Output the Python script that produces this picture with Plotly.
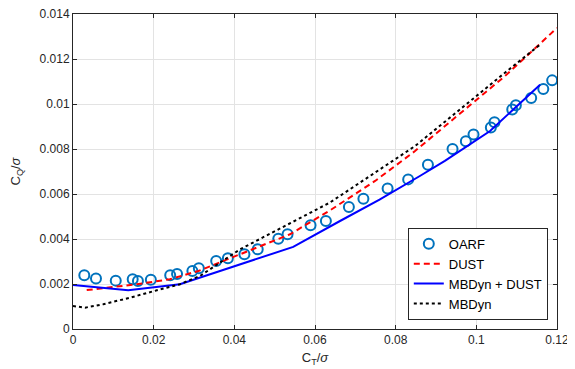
import plotly.graph_objects as go

# OARF experimental data
oarf_ct = [0.0028, 0.0057, 0.0106, 0.0148, 0.0161, 0.0193, 0.0241, 0.0258, 0.0296, 0.0312,
           0.0355, 0.0384, 0.0425, 0.0458, 0.0509, 0.0532, 0.0589, 0.0627, 0.0684, 0.0720,
           0.0780, 0.0831, 0.0880, 0.0941, 0.0974, 0.0993, 0.1036, 0.1045, 0.1089, 0.1098,
           0.1136, 0.1166, 0.1188]
oarf_cq = [0.00239, 0.00224, 0.00215, 0.00221, 0.00213, 0.00219, 0.00239, 0.00244, 0.00258, 0.00270,
           0.00302, 0.00314, 0.00332, 0.00354, 0.00401, 0.00421, 0.00461, 0.00480, 0.00542, 0.00579,
           0.00624, 0.00665, 0.00730, 0.00800, 0.00834, 0.00864, 0.00896, 0.00919, 0.00976, 0.00994,
           0.01027, 0.01067, 0.01105]

# DUST
dust_ct = [0.0034, 0.0092, 0.0158, 0.0240, 0.0311, 0.0414, 0.0538, 0.0637, 0.0749, 0.0848,
           0.0960, 0.1071, 0.1200]
dust_cq = [0.00173, 0.00184, 0.00199, 0.00221, 0.00258, 0.00332, 0.00421, 0.00527, 0.00658, 0.00791,
           0.00957, 0.01124, 0.01338]

# MBDyn + DUST
mbd_ct = [0.0, 0.0137, 0.0265, 0.0315, 0.0439, 0.0546, 0.0662, 0.0760, 0.0860, 0.0922,
          0.1034, 0.1092, 0.1158]
mbd_cq = [0.00196, 0.00172, 0.00199, 0.00228, 0.00302, 0.00365, 0.00480, 0.00575, 0.00680, 0.00747,
          0.00880, 0.00978, 0.01086]

# MBDyn
mb_ct = [0.0, 0.0030, 0.0075, 0.0141, 0.0208, 0.0265, 0.0315, 0.0414, 0.0637, 0.0848,
         0.1071, 0.1158]
mb_cq = [0.00102, 0.00095, 0.00110, 0.00139, 0.00172, 0.00199, 0.00236, 0.00354, 0.00562, 0.00813,
         0.01139, 0.01264]

x_ticks = [0, 0.02, 0.04, 0.06, 0.08, 0.1, 0.12]
x_tick_labels = ["0", "0.02", "0.04", "0.06", "0.08", "0.1", "0.12"]
y_ticks = [0, 0.002, 0.004, 0.006, 0.008, 0.01, 0.012, 0.014]
y_tick_labels = ["0", "0.002", "0.004", "0.006", "0.008", "0.01", "0.012", "0.014"]

FONT = "Liberation Sans, Arial, sans-serif"

fig = go.Figure()
fig.add_trace(go.Scatter(x=oarf_ct, y=oarf_cq, mode="markers", name="OARF",
                         marker=dict(symbol="circle-open", size=10, color="#0072BD",
                                     line=dict(width=2, color="#0072BD"))))
fig.add_trace(go.Scatter(x=dust_ct, y=dust_cq, mode="lines", name="DUST",
                         line=dict(color="#FF0000", width=2, dash="6px,4px")))
fig.add_trace(go.Scatter(x=mbd_ct, y=mbd_cq, mode="lines", name="MBDyn + DUST",
                         line=dict(color="#0000FF", width=2)))
fig.add_trace(go.Scatter(x=mb_ct, y=mb_cq, mode="lines", name="MBDyn",
                         line=dict(color="#000000", width=2, dash="dot")))

axis_common = dict(
    showline=True, linecolor="#262626", linewidth=1, mirror="ticks",
    showgrid=True, gridcolor="#E3E3E3", gridwidth=1,
    ticks="inside", ticklen=4, tickcolor="#262626",
    zeroline=False, automargin=False, ticklabeloverflow="allow",
    tickfont=dict(family=FONT, size=12, color="#262626"),
)

fig.update_xaxes(range=[0, 0.12], tickvals=x_ticks, ticktext=x_tick_labels,
                 title=dict(text="C<sub>T</sub>/<i>σ</i>", standoff=6,
                            font=dict(family=FONT, size=13, color="#262626")),
                 **axis_common)
fig.update_yaxes(range=[0, 0.014], tickvals=y_ticks, ticktext=y_tick_labels,
                 title=dict(text="C<sub>Q</sub>/<i>σ</i>", standoff=16,
                            font=dict(family=FONT, size=13, color="#262626")),
                 **axis_common)

fig.update_layout(
    width=567, height=361,
    margin=dict(l=65, r=18, t=6, b=40, autoexpand=False),
    paper_bgcolor="white", plot_bgcolor="white",
    showlegend=True,
    legend=dict(x=0.981, y=0.029, xanchor="right", yanchor="bottom",
                bgcolor="white", bordercolor="#262626", borderwidth=1,
                font=dict(family=FONT, size=13, color="#000000"),
                tracegroupgap=0, itemwidth=30),
)

fig.write_html("out.html")
